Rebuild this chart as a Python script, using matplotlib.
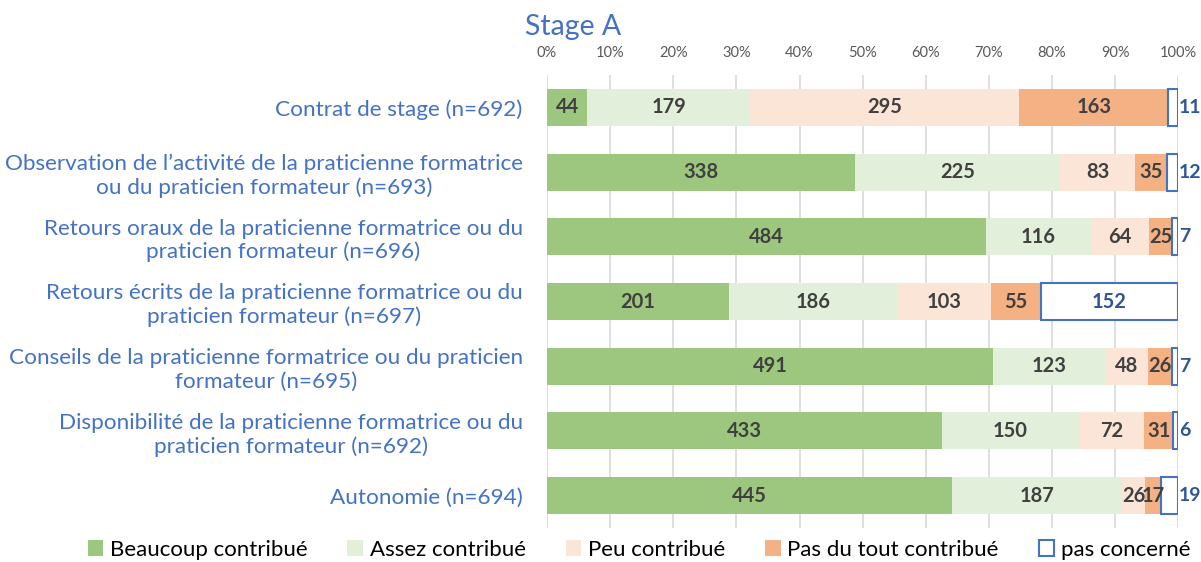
import matplotlib
matplotlib.use("Agg")
from matplotlib import pyplot as plt
from matplotlib.patches import Patch
import numpy as np

plt.rcParams['font.family'] = ['Lato', 'DejaVu Sans']

categories = [
    "Contrat de stage (n=692)",
    "Observation de l\u2019activité de la praticienne formatrice\nou du praticien formateur (n=693)",
    "Retours oraux de la praticienne formatrice ou du\npraticien formateur (n=696)",
    "Retours écrits de la praticienne formatrice ou du\npraticien formateur (n=697)",
    "Conseils de la praticienne formatrice ou du praticien\nformateur (n=695)",
    "Disponibilité de la praticienne formatrice ou du\npraticien formateur (n=692)",
    "Autonomie (n=694)",
]
series_names = ["Beaucoup contribué", "Assez contribué", "Peu contribué",
                "Pas du tout contribué", "pas concerné"]
beaucoup = [44, 338, 484, 201, 491, 433, 445]
assez = [179, 225, 116, 186, 123, 150, 187]
peu = [295, 83, 64, 103, 48, 72, 26]
pas_du_tout = [163, 35, 25, 55, 26, 31, 17]
pas_concerne = [11, 12, 7, 152, 7, 6, 19]

colors = ["#9DC77E", "#E2EFDA", "#FBE5D6", "#F4B183", "white"]
blue = "#4472C4"
dark = "#404040"

counts = np.array([beaucoup, assez, peu, pas_du_tout, pas_concerne], dtype=float)
shares = counts / counts.sum(axis=0)
y = np.arange(len(categories))

fig = plt.figure(figsize=(12.01, 5.62), dpi=100)
ax = fig.add_axes([0.4555, 0.0605, 0.5255, 0.806])

left = np.zeros(len(categories))
for i, name in enumerate(series_names):
    last = i == len(series_names) - 1
    ax.barh(y, shares[i], left=left, height=0.57, color=colors[i],
            edgecolor=blue if last else "none", linewidth=1.5 if last else 0,
            zorder=3)
    for j in range(len(categories)):
        val = int(counts[i, j])
        cx = left[j] + shares[i, j] / 2
        if last:
            if shares[i, j] > 0.1:
                ax.text(cx, y[j], str(val), ha="center", va="center",
                        fontsize=14.5, fontweight="bold", color="#2F5597", zorder=4)
            else:
                ax.text(1.001, y[j], str(val), ha="left", va="center",
                        fontsize=14, fontweight="bold", color="#2F5597", zorder=4)
        else:
            ax.text(cx, y[j], str(val), ha="center", va="center",
                    fontsize=14.5, fontweight="bold", color=dark, zorder=4)
    left += shares[i]

ax.set_xlim(0, 1)
ax.set_ylim(len(categories) - 0.5, -0.5)
ax.set_xticks(np.arange(0, 1.01, 0.1))
ax.set_xticklabels([f"{int(round(t * 100))}%" for t in np.arange(0, 1.01, 0.1)],
                   fontsize=10.5, color="#595959")
ax.xaxis.tick_top()
ax.tick_params(axis="x", length=0, pad=11)
ax.tick_params(axis="y", length=0, pad=17.5)
ax.set_yticks(y)
ax.set_yticklabels(categories, fontsize=16.2, color=blue, multialignment="center")
ax.grid(axis="x", color="#D9D9D9", linewidth=1.2, zorder=0)
for s in ax.spines.values():
    s.set_visible(False)

fig.text(0.437, 0.952, "Stage A", ha="left", va="center", fontsize=20.5, color=blue)

handles = [Patch(facecolor=c, edgecolor=blue if n == "pas concerné" else c,
                 linewidth=1.5 if n == "pas concerné" else 0)
           for c, n in zip(colors, series_names)]
fig.legend(handles, series_names, loc="center", bbox_to_anchor=(0.532, 0.022),
           ncol=5, frameon=False, fontsize=16, handlelength=0.7, handleheight=0.7,
           handletextpad=0.3, columnspacing=1.8, borderpad=0)

fig.savefig("out.png", dpi=100)
